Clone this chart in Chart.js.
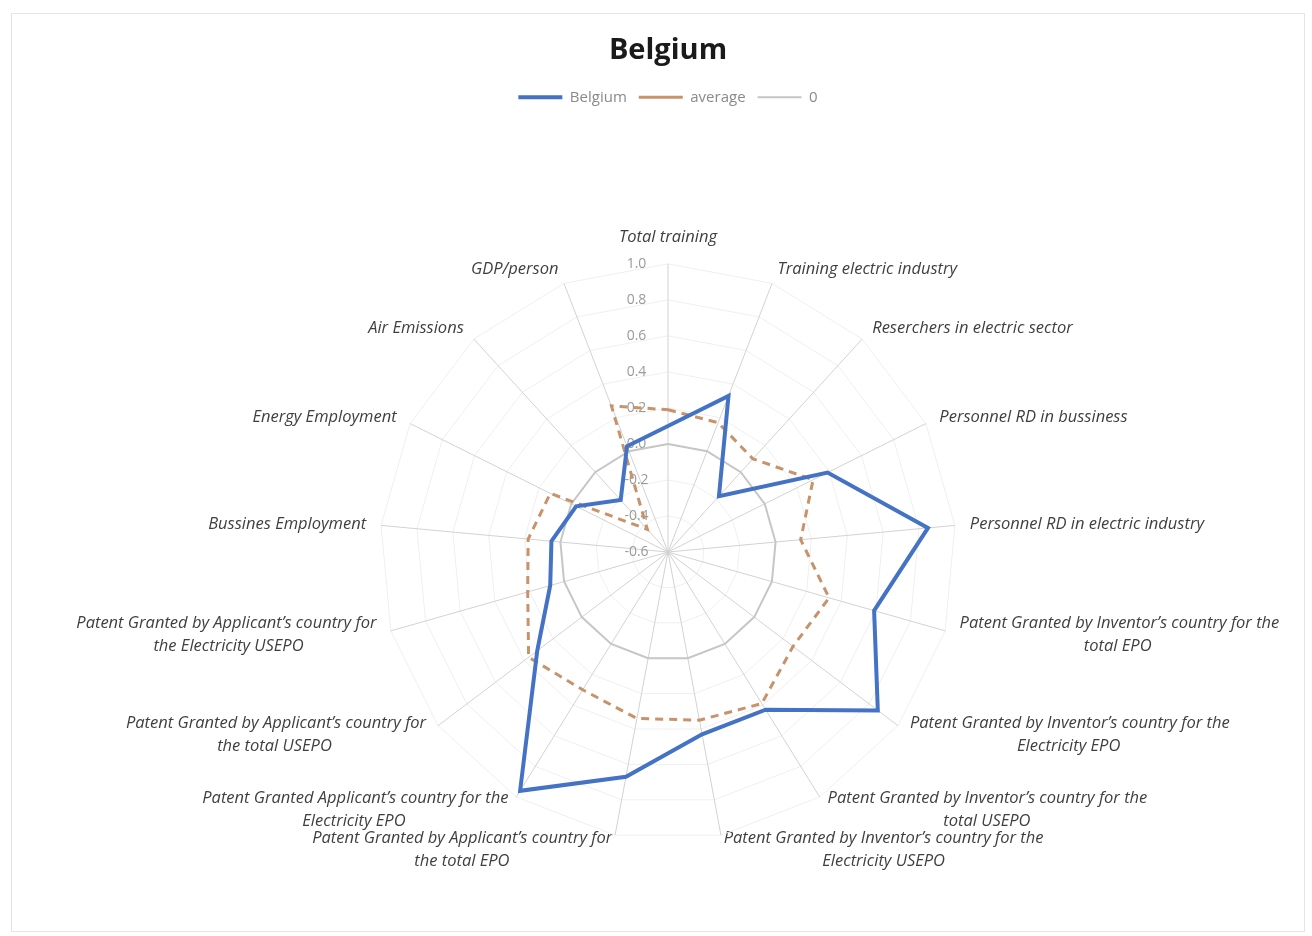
<!DOCTYPE html>
<html>
<head>
<meta charset="utf-8">
<script src="https://cdn.jsdelivr.net/npm/chart.js@4/dist/chart.umd.min.js"></script>
<style>
  html, body { margin: 0; padding: 0; background: #fff; }
  #frame { position: absolute; left: 11px; top: 13px; width: 1292px; height: 917px; border: 1px solid #e4e4e4; }
  #radar { position: absolute; left: 0; top: 0; }
</style>
</head>
<body>
<div id="frame"></div>
<canvas id="radar" width="1312" height="936"></canvas>
<script>
// categories, clockwise from the top
var categories = [
	'Total training',
	'Training electric industry',
	'Reserchers in electric sector',
	'Personnel RD in bussiness',
	'Personnel RD in electric industry',
	['Patent Granted by Inventor\u2019s country for the', 'total EPO'],
	['Patent Granted by Inventor\u2019s country for the', 'Electricity EPO'],
	['Patent Granted by Inventor\u2019s country for the', 'total USEPO'],
	['Patent Granted by Inventor\u2019s country for the', 'Electricity USEPO'],
	['Patent Granted by Applicant\u2019s country for', 'the total EPO'],
	['Patent Granted Applicant\u2019s country for the', 'Electricity EPO'],
	['Patent Granted by Applicant\u2019s country for', 'the total USEPO'],
	['Patent Granted by Applicant\u2019s country for', 'the Electricity USEPO'],
	'Bussines Employment',
	'Energy Employment',
	'Air Emissions',
	'GDP/person'
];

var belgiumValues = [0.10, 0.33, -0.18, 0.39, 0.85, 0.59, 0.86, 0.43, 0.43, 0.67, 0.96, 0.31, 0.08, 0.05, -0.03, -0.21, 0.03];
var averageValues = [0.19, 0.17, 0.10, 0.30, 0.14, 0.33, 0.27, 0.39, 0.35, 0.34, 0.30, 0.37, 0.21, 0.18, 0.13, -0.43, 0.27];
var zeroValues    = [0, 0, 0, 0, 0, 0, 0, 0, 0, 0, 0, 0, 0, 0, 0, 0, 0];

var seriesNames = ['Belgium', 'average', '0'];
var axisMin = -0.6;
var axisMax = 1.0;
var axisStep = 0.2;

var labelFont = "'Open Sans', 'Liberation Sans', sans-serif";
var pointLabelSize = 16.5;

// second line of a wrapped label sits centred under the first one, like in Excel
var measureCtx = document.createElement('canvas').getContext('2d');
function centerSecondLine(label, index){
	if(!Array.isArray(label)){
		return label;
	}
	measureCtx.font = 'italic ' + pointLabelSize + 'px ' + labelFont;
	var gap = (measureCtx.measureText(label[0]).width - measureCtx.measureText(label[1]).width) / 2;
	var spaceCount = Math.max(0, Math.round(gap / measureCtx.measureText(' ').width));
	var spaces = ' '.repeat(spaceCount);
	var onLeftSide = index > categories.length / 2;
	return [label[0], onLeftSide ? label[1] + spaces : spaces + label[1]];
}

// Chart.js pushes the radar sideways to make room for the long labels and
// hangs the labels above / below the spoke ends; Excel keeps the radar in the
// middle under the title and centres each label on its spoke
var excelLikeRadar = {
	id: 'excelLikeRadar',
	afterLayout: function(chart){
		var scale = chart.scales.r;
		var area = chart.chartArea;
		var dx = Math.floor((area.left + area.right) / 2) - scale.xCenter;
		scale.xCenter += dx;

		var items = scale._pointLabelItems || [];
		items.forEach(function(item, i){
			item.x += dx;
			item.left += dx;
			item.right += dx;

			var angle = i * 360 / items.length;
			if(angle === 0 || angle === 180){
				return;
			}
			var half = (item.bottom - item.top) / 2;
			var dy = (angle < 90 || angle > 270) ? half : -half;
			item.y += dy;
			item.top += dy;
			item.bottom += dy;
		});
	}
};

new Chart(document.getElementById('radar'), {
	type: 'radar',
	data: {
		labels: categories,
		datasets: [
			{
				label: seriesNames[0],
				data: belgiumValues,
				borderColor: '#4472c4',
				backgroundColor: '#4472c4',
				borderWidth: 4,
				pointRadius: 0,
				fill: false
			},
			{
				label: seriesNames[1],
				data: averageValues,
				borderColor: '#c8926a',
				backgroundColor: '#c8926a',
				borderWidth: 3,
				borderDash: [8, 6],
				pointRadius: 0,
				fill: false
			},
			{
				label: seriesNames[2],
				data: zeroValues,
				borderColor: '#c6c6c6',
				backgroundColor: '#c6c6c6',
				borderWidth: 2,
				pointRadius: 0,
				fill: false
			}
		]
	},
	plugins: [excelLikeRadar],
	options: {
		responsive: false,
		animation: false,
		devicePixelRatio: 1,
		layout: { padding: { top: 23, bottom: 32, left: 24, right: 0 } },
		plugins: {
			title: {
				display: true,
				text: 'Belgium',
				color: '#1a1a1a',
				font: { family: labelFont, size: 29, weight: 'bold' },
				padding: { top: 10, bottom: 10 }
			},
			legend: {
				display: true,
				position: 'top',
				labels: {
					usePointStyle: true,
					pointStyle: 'line',
					pointStyleWidth: 44,
					color: '#8a8a8a',
					font: { family: labelFont, size: 15 },
					padding: 12
				}
			},
			// empty spacer between the legend and the plot
			subtitle: {
				display: true,
				text: '',
				weight: 500,
				padding: { top: 90, bottom: 0 }
			},
			tooltip: { enabled: false }
		},
		scales: {
			r: {
				min: axisMin,
				max: axisMax,
				ticks: {
					stepSize: axisStep,
					showLabelBackdrop: false,
					color: '#9a9a9a',
					font: { family: labelFont, size: 14 },
					callback: function(value){
						return value.toFixed(1) + '\u2003\u2003\u2003\u2003\u2002';
					}
				},
				grid: { color: '#efefef', lineWidth: 1 },
				angleLines: { color: '#d2d2d2', lineWidth: 1 },
				pointLabels: {
					color: '#3f3f3f',
					padding: 6,
					font: { family: labelFont, size: pointLabelSize, style: 'italic', lineHeight: 1.36 },
					callback: centerSecondLine
				}
			}
		}
	}
});
</script>
</body>
</html>
